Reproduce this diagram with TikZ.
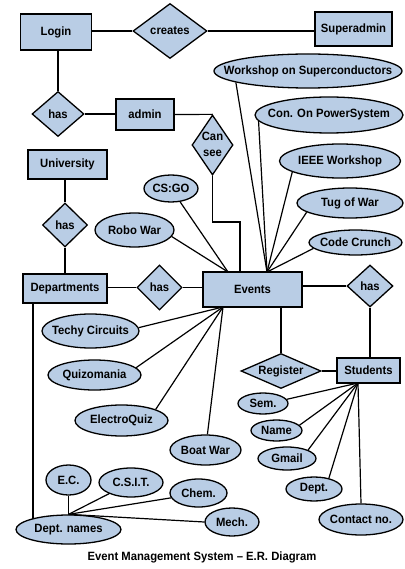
\documentclass[tikz,border=0pt]{standalone}
\usepackage{fontspec}
\setmainfont{Liberation Sans}[FakeStretch=0.94]
\usetikzlibrary{shapes.geometric}
\definecolor{erfill}{HTML}{B9CDE5}
\newcommand\zb[1]{\makebox[0pt]{#1}}
\begin{document}
\begin{tikzpicture}[x=1pt,y=-1pt,
  every node/.style={font=\fontsize{12}{13}\selectfont\bfseries, inner sep=0pt},
  ent/.style={rectangle, draw, fill=erfill, line width=1.3pt},
  rel/.style={diamond, aspect=1, draw, fill=erfill, line width=1.3pt},
  attr/.style={ellipse, draw, fill=erfill, line width=1.3pt},
  link/.style={line width=1.2pt}]
\useasboundingbox (0,0) rectangle (404,569);
\fill[white] (0,0) rectangle (404,569);

% connectors are drawn first, shapes cover their ends
\coordinate (evtop) at (267,272);
\coordinate (evul) at (228,272);
\coordinate (evbl) at (223,307);
\coordinate (stb) at (358,383);
\coordinate (cs1) at (240,222);
\coordinate (dl) at (33,518.8);

% nodes
\node[ent, minimum width=71, minimum height=36] (login) at (56,32) {Login};
\node[rel, minimum width=74, minimum height=55] (creates) at (170,31) {\zb{creates}};
\node[ent, minimum width=77, minimum height=34] (superadmin) at (353.5,29) {Superadmin};
\node[attr, minimum width=188, minimum height=34] (wos) at (308,71) {\zb{Workshop on Superconductors}};
\node[attr, minimum width=148, minimum height=36] (cops) at (329,115) {\zb{Con. On PowerSystem}};
\node[rel, minimum width=52, minimum height=45] (has1) at (58,114) {\zb{has}};
\node[ent, minimum width=58, minimum height=31] (admin) at (145,114.5) {admin};
\node[rel, minimum width=41, minimum height=60] (cansee) at (212.5,145)
  {\zb{\renewcommand\arraystretch{1.25}\begin{tabular}{@{}c@{}}Can\\see\end{tabular}}};
\node[ent, minimum width=79, minimum height=29] (univ) at (67.5,164.5) {University};
\node[attr, minimum width=121, minimum height=34] (ieee) at (340,161) {\zb{IEEE Workshop}};
\node[attr, minimum width=54, minimum height=27] (csgo) at (171,188.5) {\zb{CS:GO}};
\node[rel, minimum width=45, minimum height=44] (hasu) at (65,225) {\zb{has}};
\node[attr, minimum width=79, minimum height=34] (robo) at (134.5,230) {\zb{Robo War}};
\node[attr, minimum width=106, minimum height=30] (tug) at (350,203) {\zb{Tug of War}};
\node[attr, minimum width=93, minimum height=25] (code) at (355.5,242.5) {\zb{Code Crunch}};
\node[ent, minimum width=84, minimum height=29] (depts) at (65,288.5) {Departments};
\node[rel, minimum width=45, minimum height=45] (has2) at (159.5,287.5) {\zb{has}};
\node[ent, minimum width=99, minimum height=35] (events) at (252.5,289.5) {Events};
\node[rel, minimum width=46, minimum height=42] (has3) at (370,286) {\zb{has}};
\node[attr, minimum width=97, minimum height=34] (techy) at (90.5,331) {\zb{Techy Circuits}};
\node[attr, minimum width=93, minimum height=30] (quiz) at (94.5,375) {\zb{Quizomania}};
\node[rel, minimum width=80, minimum height=35] (register) at (281,371) {\zb{Register}};
\node[ent, minimum width=63, minimum height=25] (students) at (368.5,370.5) {Students};
\node[attr, minimum width=93, minimum height=31] (eq) at (121.5,420.5) {\zb{ElectroQuiz}};
\node[attr, minimum width=71, minimum height=30] (boat) at (205.5,450) {\zb{Boat War}};
\node[attr, minimum width=50, minimum height=21] (sem) at (263,403.5) {\zb{Sem.}};
\node[attr, minimum width=51, minimum height=21] (name) at (276.5,430.5) {\zb{Name}};
\node[attr, minimum width=58, minimum height=23] (gmail) at (287,458.5) {\zb{Gmail}};
\node[attr, minimum width=56, minimum height=24] (dept) at (314,489) {\zb{Dept.}};
\node[attr, minimum width=84, minimum height=31] (contact) at (361,519.5) {\zb{Contact no.}};
\node[attr, minimum width=45, minimum height=30] (ec) at (68.5,480) {\zb{E.C.}};
\node[attr, minimum width=64, minimum height=29] (csit) at (131,482.5) {\zb{C.S.I.T.}};
\node[attr, minimum width=57, minimum height=28] (chem) at (198.5,493) {\zb{Chem.}};
\node[attr, minimum width=54, minimum height=28] (mech) at (232,522) {\zb{Mech.}};
\node[attr, minimum width=105, minimum height=29] (dnames) at (68.5,529.5) {\zb{Dept. names}};
\node (title) at (202,557) {Event Management System -- E.R. Diagram};

% connectors
\begin{scope}[link]
\draw (login.east |- creates.west) -- (creates.west);
\draw (creates.east) -- (creates.east -| superadmin.west);
\draw (has1.north) -- (has1.north |- login.south);
\draw (has1.east) -- (has1.east -| admin.west);
\draw (admin.east) -- (cansee.north);
\draw (cansee.south) |- (cs1) -- (cs1 |- events.north);
\draw (hasu.north) -- (hasu.north |- univ.south);
\draw (hasu.south) -- (hasu.south |- depts.north);
\draw (has2.west) -- (has2.west -| depts.east);
\draw (has2.east) -- (has2.east -| events.west);
\draw (has3.west) -- (has3.west -| events.east);
\draw (has3.south) -- (has3.south |- students.north);
\draw (register.north) -- (register.north |- events.south);
\draw (register.east) -- (register.east -| students.west);
\draw (dl |- depts.south) -- (dl);
% event attributes
\draw (wos.189) -- (evtop);
\draw (cops.185) -- (evtop);
\draw (ieee.193) -- (evtop);
\draw (tug.192) -- (evtop);
\draw (code.188) -- (evtop);
\draw (csgo) -- (evul);
\draw (robo.-10) -- (evul);
\draw (techy.4) -- (evbl);
\draw (quiz.10) -- (evbl);
\draw (eq.18) -- (evbl);
\draw (boat) -- (evbl);
% student attributes
\draw (sem.10) -- (stb);
\draw (name.13) -- (stb);
\draw (gmail.22) -- (stb);
\draw (dept.36) -- (stb);
\draw (contact.north) -- (stb);
% department names
\draw (ec.south) -- (dnames.north);
\draw (csit) -- (dnames.north);
\draw (chem.190) -- (dnames.north);
\draw (mech.west) -- (dnames.north);
\end{scope}
\end{tikzpicture}
\end{document}
